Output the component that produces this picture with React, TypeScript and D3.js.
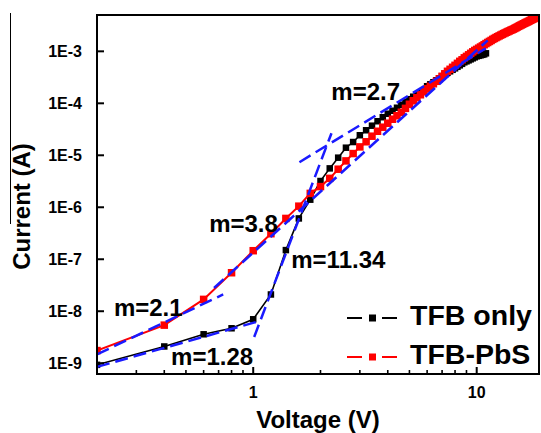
import React, { useEffect, useRef } from 'react';
import * as d3 from 'd3';

// I-V data (V in volts, I in amps)
const voltsTFB = [0.2, 0.4, 0.6, 0.8, 1.0, 1.2, 1.4, 1.6, 1.8, 2.0, 2.2, 2.4, 2.6, 2.8, 3.0, 3.2, 3.4, 3.6, 3.8, 4.0,
  4.2, 4.4, 4.6, 4.8, 5.0, 5.2, 5.4, 5.6, 5.8, 6.0, 6.2, 6.4, 6.6, 6.8, 7.0, 7.2, 7.4, 7.6, 7.8, 8.0,
  8.2, 8.4, 8.6, 8.8, 9.0, 9.2, 9.4, 9.6, 9.8, 10.0, 10.2, 10.4, 10.6, 10.8, 11.0];
const currentTFB = [9.3e-10, 2.1e-9, 3.6e-9, 4.7e-9, 7.0e-9, 2.1e-8, 1.5e-7, 6.1e-7, 1.4e-6, 3.2e-6,
  5.6e-6, 9.0e-6, 1.4e-5, 1.8e-5, 2.43e-5, 3.03e-5, 3.71e-5, 4.52e-5, 5.4e-5, 6.3e-5,
  7.19e-5, 8.22e-5, 9.38e-5, 1.07e-4, 1.2e-4, 1.34e-4, 1.49e-4, 1.63e-4, 1.78e-4, 2.13e-4,
  2.32e-4, 2.54e-4, 2.77e-4, 3.03e-4, 3.31e-4, 3.61e-4, 3.86e-4, 4.13e-4, 4.41e-4, 4.71e-4,
  5.04e-4, 5.38e-4, 5.75e-4, 6.15e-4, 6.42e-4, 6.71e-4, 7.02e-4, 7.34e-4, 7.67e-4, 8.02e-4,
  8.2e-4, 8.38e-4, 8.57e-4, 8.76e-4, 9.16e-4];

const voltsPbS = [0.2, 0.4, 0.6, 0.8, 1.0, 1.2, 1.4, 1.6, 1.8, 2.0, 2.2, 2.4, 2.6, 2.8, 3.0, 3.2, 3.4, 3.6, 3.8, 4.0,
  4.2, 4.4, 4.6, 4.8, 5.0, 5.2, 5.4, 5.6, 5.8, 6.0, 6.2, 6.4, 6.6, 6.8, 7.0, 7.2, 7.4, 7.6, 7.8, 8.0,
  8.2, 8.4, 8.6, 8.8, 9.0, 9.2, 9.4, 9.6, 9.8, 10.0, 10.2, 10.4, 10.6, 10.8, 11.0, 11.2, 11.4, 11.6, 11.8, 12.0,
  12.2, 12.4, 12.6, 12.8, 13.0, 13.2, 13.4, 13.6, 13.8, 14.0, 14.2, 14.4, 14.6, 14.8, 15.0, 15.2, 15.4, 15.6, 15.8, 16.0,
  16.2, 16.4, 16.6, 16.8, 17.0, 17.2, 17.4, 17.6, 17.8, 18.0, 18.2, 18.4, 18.6, 18.8, 19.0];
const currentPbS = [1.75e-9, 5.4e-9, 1.69e-8, 5.5e-8, 1.46e-7, 3.1e-7, 6.1e-7, 1.05e-6, 1.85e-6, 2.5e-6,
  3.6e-6, 5.4e-6, 7.8e-6, 1.08e-5, 1.45e-5, 1.82e-5, 2.33e-5, 2.9e-5, 3.47e-5, 4.14e-5,
  4.94e-5, 5.77e-5, 6.73e-5, 8.0e-5, 9.6e-5, 1.12e-4, 1.28e-4, 1.46e-4, 1.67e-4, 1.9e-4,
  2.13e-4, 2.38e-4, 2.65e-4, 2.96e-4, 3.31e-4, 3.7e-4, 4.13e-4, 4.51e-4, 4.93e-4, 5.38e-4,
  5.88e-4, 6.42e-4, 6.87e-4, 7.5e-4, 8.0e-4, 8.57e-4, 9.16e-4, 9.78e-4, 1.04e-3, 1.09e-3,
  1.15e-3, 1.21e-3, 1.27e-3, 1.34e-3, 1.41e-3, 1.48e-3, 1.55e-3, 1.62e-3, 1.70e-3, 1.77e-3,
  1.84e-3, 1.91e-3, 1.98e-3, 2.05e-3, 2.12e-3, 2.19e-3, 2.26e-3, 2.33e-3, 2.40e-3, 2.47e-3,
  2.54e-3, 2.61e-3, 2.68e-3, 2.76e-3, 2.85e-3, 2.94e-3, 3.03e-3, 3.12e-3, 3.21e-3, 3.30e-3,
  3.39e-3, 3.48e-3, 3.57e-3, 3.66e-3, 3.75e-3, 3.85e-3, 3.95e-3, 4.05e-3, 4.15e-3, 4.25e-3,
  4.36e-3, 4.47e-3, 4.58e-3, 4.69e-3, 4.8e-3];

// power-law fits (blue dashed), each from [v0, v1] / [i0, i1]
const fitVolts = [[0.2, 1.03], [0.2, 0.734], [0.668, 11.2], [1.01, 2.24], [1.61, 10.97]];
const fitCurrents = [[8.5e-10, 6.2e-9], [1.48e-9, 2.1e-8], [2.8e-8, 1.63e-3], [3.2e-9, 2.66e-5], [7.36e-6, 1.14e-3]];

// slope labels, anchored in data space
const slopeLabels = ['m=2.7', 'm=3.8', 'm=11.34', 'm=2.1', 'm=1.28'];
const slopeVolts = [2.237, 0.635, 1.48, 0.238, 0.429];
const slopeCurrents = [1.15e-4, 3.33e-7, 6.78e-8, 8.1e-9, 9.27e-10];

const yTicks = [1e-9, 1e-8, 1e-7, 1e-6, 1e-5, 1e-4, 1e-3];
const yTickLabels = ['1E-9', '1E-8', '1E-7', '1E-6', '1E-5', '1E-4', '1E-3'];
const xTicks = [1, 10];
const xMinorTicks = [0.3, 0.4, 0.5, 0.6, 0.7, 0.8, 0.9, 2, 3, 4, 5, 6, 7, 8, 9];

const legendNames = ['TFB only', 'TFB-PbS'];
const legendColors = ['#000000', '#ff0000'];

const App = () => {
  const ref = useRef(null);

  useEffect(() => {
    document.body.style.margin = '0';
    const width = 541;
    const height = 433;
    const left = 97, right = 539, top = 15, bottom = 374;
    const font = '"Liberation Sans", Arial, sans-serif';

    d3.select(ref.current).selectAll('*').remove();
    const svg = d3.select(ref.current)
      .append('svg')
      .attr('width', width)
      .attr('height', height)
      .style('display', 'block')
      .style('background', '#fff');

    const x = d3.scaleLog().domain([0.2, 19]).range([left, right]);
    const y = d3.scaleLog().domain([6.2e-10, 5e-3]).range([bottom, top]);

    const plot = svg.append('g');
    plot.append('clipPath').attr('id', 'clip')
      .append('rect').attr('x', left).attr('y', top).attr('width', right - left).attr('height', bottom - top);
    const inner = plot.append('g').attr('clip-path', 'url(#clip)');

    const line = d3.line<number>();
    const drawSeries = (volts, cur, color, lw, ms) => {
      const pts = volts.map((v, i) => [x(v), y(cur[i])]);
      inner.append('path')
        .attr('d', line(pts))
        .attr('fill', 'none')
        .attr('stroke', color)
        .attr('stroke-width', lw);
      inner.append('g').selectAll('rect')
        .data(pts)
        .enter()
        .append('rect')
        .attr('x', d => d[0] - ms / 2)
        .attr('y', d => d[1] - ms / 2)
        .attr('width', ms)
        .attr('height', ms)
        .attr('fill', color);
    };
    drawSeries(voltsTFB, currentTFB, '#000000', 1.6, 6.5);
    drawSeries(voltsPbS, currentPbS, '#ff0000', 2, 7.5);

    fitVolts.forEach((fv, k) => {
      inner.append('line')
        .attr('x1', x(fv[0])).attr('y1', y(fitCurrents[k][0]))
        .attr('x2', x(fv[1])).attr('y2', y(fitCurrents[k][1]))
        .attr('stroke', '#1a1aff')
        .attr('stroke-width', 2.5)
        .attr('stroke-dasharray', '13,6');
    });

    slopeLabels.forEach((t, k) => {
      svg.append('text')
        .attr('x', x(slopeVolts[k]))
        .attr('y', y(slopeCurrents[k]))
        .text(t)
        .style('font-family', font)
        .style('font-weight', 'bold')
        .style('font-size', '24px')
        .attr('fill', '#000');
    });

    // legend
    legendNames.forEach((name, k) => {
      const ly = 318 + k * 39;
      const g = svg.append('g');
      g.append('line').attr('x1', 347).attr('x2', 362).attr('y1', ly).attr('y2', ly)
        .attr('stroke', legendColors[k]).attr('stroke-width', 2);
      g.append('line').attr('x1', 382).attr('x2', 397).attr('y1', ly).attr('y2', ly)
        .attr('stroke', legendColors[k]).attr('stroke-width', 2);
      g.append('rect').attr('x', 369).attr('y', ly - 3.5).attr('width', 7).attr('height', 7)
        .attr('fill', legendColors[k]);
      g.append('text').attr('x', 410).attr('y', ly + 7)
        .text(name)
        .style('font-family', font)
        .style('font-weight', 'bold')
        .style('font-size', '28.5px')
        .attr('fill', '#000');
    });

    // frame
    svg.append('rect')
      .attr('x', left).attr('y', top)
      .attr('width', right - left).attr('height', bottom - top)
      .attr('fill', 'none').attr('stroke', '#000').attr('stroke-width', 2);

    // y ticks (inward)
    yTicks.forEach((t, k) => {
      svg.append('line').attr('x1', left).attr('x2', left + 7).attr('y1', y(t)).attr('y2', y(t))
        .attr('stroke', '#000').attr('stroke-width', 2);
      svg.append('text').attr('x', 82).attr('y', y(t)).attr('dy', '0.36em')
        .attr('text-anchor', 'end')
        .text(yTickLabels[k])
        .style('font-family', font).style('font-weight', 'bold').style('font-size', '16px');
    });

    // x ticks (inward)
    xTicks.forEach(t => {
      svg.append('line').attr('x1', x(t)).attr('x2', x(t)).attr('y1', bottom).attr('y2', bottom - 7)
        .attr('stroke', '#000').attr('stroke-width', 2);
      svg.append('text').attr('x', x(t)).attr('y', 398)
        .attr('text-anchor', 'middle')
        .text(String(t))
        .style('font-family', font).style('font-weight', 'bold').style('font-size', '16px');
    });
    xMinorTicks.forEach(t => {
      svg.append('line').attr('x1', x(t)).attr('x2', x(t)).attr('y1', bottom).attr('y2', bottom - 4)
        .attr('stroke', '#000').attr('stroke-width', 1.6);
    });

    // axis titles
    svg.append('text')
      .attr('transform', 'translate(30,206.5) rotate(-90)')
      .attr('text-anchor', 'middle')
      .text('Current (A)')
      .style('font-family', font).style('font-weight', 'bold').style('font-size', '24px');
    svg.append('text')
      .attr('x', 318).attr('y', 428)
      .attr('text-anchor', 'middle')
      .text('Voltage (V)')
      .style('font-family', font).style('font-weight', 'bold').style('font-size', '24px');

    // stray rule at the left edge of the original figure
    svg.append('line').attr('x1', 10.5).attr('x2', 10.5).attr('y1', 13).attr('y2', 224)
      .attr('stroke', '#000').attr('stroke-width', 1);
  }, []);

  return <div ref={ref}></div>;
};

export default App;
